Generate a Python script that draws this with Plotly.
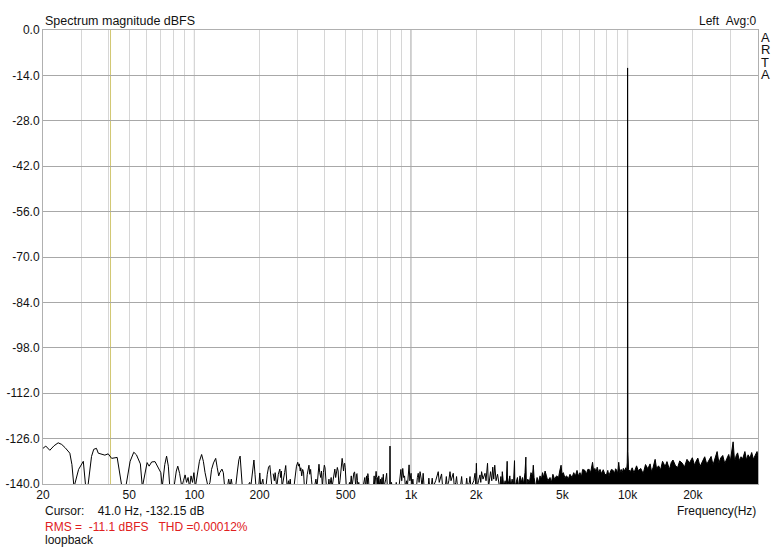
import plotly.graph_objects as go

# ---------------- data ----------------
low_freq = [20.0, 20.6, 21.5, 22.5, 23.5, 24.4, 25.3, 26.6, 27.2, 27.8, 29.2, 30.7, 31.5, 32.2,
            33.5, 34.3, 35.3, 36.0, 38.6, 40.0, 41.5, 43.0, 44.0, 46.3, 48.2, 50.5, 52.5, 54.0,
            56.3, 57.5, 59.0, 60.5, 61.8, 63.5, 65.8, 68.0, 70.0, 71.0, 73.0, 74.4, 75.8, 77.0,
            80.5, 82.5, 83.8, 85.5, 87.5, 89.0, 90.6, 92.0, 93.5, 95.0, 96.5, 98.0, 99.5, 101.0,
            103.0, 105.5, 108.0, 110.0, 112.0, 114.0, 115.7, 118.0, 120.0, 122.5, 125.4, 127.5,
            129.5, 131.0, 134.0, 136.0, 138.0, 142.0, 144.0, 146.0, 148.0, 150.0, 155.0, 158.0,
            160.5, 162.6, 164.5, 166.5, 175.0, 180.0, 182.0, 185.5, 188.3, 190.5, 192.5, 198.0,
            200.4, 202.5, 205.0, 207.0, 209.0, 214.0, 217.0, 220.0, 223.0, 225.5, 228.0]
low_db = [-129.0, -128.3, -129.6, -128.2, -127.3, -127.8, -128.8, -130.5, -134.0, -141, -135.5,
          -133.0, -141, -141, -131.5, -129.3, -129.0, -130.5, -131.1, -130.7, -132.1, -131.8,
          -131.8, -141, -141, -133.0, -130.2, -131.0, -133.8, -141, -137.0, -133.4, -134.5,
          -133.2, -133.1, -134.8, -136.5, -141, -134.0, -131.4, -134.5, -141, -141, -136.0,
          -134.5, -136.8, -141, -139.0, -137.2, -139.5, -138.0, -141, -137.5, -139.5, -136.5,
          -141, -137.0, -133.0, -130.9, -133.0, -136.5, -139.0, -141, -139.5, -135.5, -133.5,
          -132.1, -135.0, -137.5, -136.5, -135.4, -136.5, -141, -141, -138.5, -141, -138.5,
          -141, -141, -136.0, -132.5, -131.4, -135.5, -141, -141, -139.5, -141, -136.0,
          -132.6, -137.0, -141, -141, -136.6, -141, -139.5, -138.5, -141, -141, -137.0,
          -134.8, -134.3, -137.5, -141]

mid_freq = [231, 234, 236, 238, 240, 244, 246, 248, 250, 252, 254, 258, 261, 264, 266, 268, 272,
            274, 277, 279, 288, 292, 296, 300, 303, 305, 308, 310, 313, 316, 319, 322, 328, 332,
            335, 338, 341, 344, 347, 350, 358, 364, 368, 372, 376, 379, 383, 386, 390, 394, 398,
            401, 404, 407, 414, 418, 421, 428, 432, 440, 445, 449, 453, 457, 461, 465, 470, 474,
            478, 481, 484, 488, 491, 494, 497, 500, 503, 515, 520, 524, 530, 534, 540, 545, 549,
            553, 556, 560, 563, 566, 569, 574, 578, 585, 588, 600, 612, 616, 624, 628, 632, 636,
            640, 670, 676, 680, 686, 690, 694, 698, 702, 706, 710, 714, 718, 724, 728, 735, 740,
            745, 750, 765, 772, 778, 797, 800, 803, 813, 818, 852, 855, 858, 880, 890, 898, 906,
            916, 925, 934, 942, 955, 962, 972, 980, 988, 1001, 1010, 1020, 1028, 1060, 1070, 1080,
            1090, 1101, 1115, 1125, 1138, 1150, 1200, 1209, 1220, 1240, 1253, 1265, 1300, 1320,
            1336, 1350, 1365, 1384, 1400, 1440, 1456, 1470, 1495, 1514, 1530, 1550, 1567, 1585,
            1610, 1623, 1640, 1690, 1713, 1730, 1790, 1808, 1825, 1860, 1873, 1890, 1950, 1975,
            1990, 2004, 2020, 2050, 2082, 2100, 2118, 2150, 2196, 2220, 2256, 2280, 2310, 2330,
            2360, 2385, 2410, 2436, 2470, 2510, 2550, 2576]
mid_db = [-136.8, -139, -136.5, -141, -141, -137, -135.5, -135.4, -138, -136, -141, -139, -136.5,
          -134.3, -138, -141, -139, -141, -138.5, -141, -141, -137, -134.5, -133.3, -134.5,
          -133.8, -136, -135, -137.5, -135.5, -136.2, -141, -141, -137, -135, -134.2, -137,
          -135.5, -138.5, -141, -141, -138.5, -141, -136, -133.9, -136.5, -138, -136, -141,
          -136.5, -134.2, -135, -137, -141, -141, -138.5, -141, -138, -141, -137.5, -135.4,
          -138, -136.5, -134.9, -136, -141, -139, -136.5, -134, -132.1, -133.5, -136, -134,
          -133.6, -135, -137.5, -141, -141, -139.5, -141, -137.5, -141, -137, -136.5, -136.3,
          -138, -141, -137, -136.8, -139, -141, -139.5, -141, -140, -141, -141, -138, -141,
          -137.5, -141, -136.8, -138, -141, -141, -137.5, -141, -137, -136.1, -138, -141,
          -138, -141, -137.5, -139, -141, -138.5, -141, -138, -141, -137, -141, -138.5,
          -136.7, -141, -141, -128.3, -141, -139.5, -141, -141, -139.5, -141, -141, -137,
          -135.5, -139, -135.2, -138, -137.5, -141, -139, -141, -137, -134.1, -139, -136.7,
          -141, -138.5, -141, -141, -138, -136.7, -139.5, -136.2, -138.5, -141, -136.7, -141,
          -141, -138.2, -141, -141, -138.2, -141, -139, -137, -136.2, -139.5, -138, -136.9,
          -141, -141, -137.7, -141, -139, -136.2, -139, -138, -136.7, -141, -139.5, -137.7,
          -141, -141, -137.7, -141, -141, -138.2, -141, -139.5, -137.7, -141, -139, -136.7,
          -140, -133.6, -141, -139, -137.2, -139.5, -136.2, -138.5, -136.7, -139, -133.6,
          -141, -138.5, -136.2, -139, -134.8, -138.5, -134.2, -139, -137, -140, -141]

high_freq = [2576, 2600, 2620, 2640, 2660, 2680, 2720, 2750, 2780, 2792, 2830, 2860, 2890, 2930,
             2970, 3005, 3018, 3060, 3100, 3140, 3186, 3230, 3270, 3310, 3360, 3391, 3410, 3460,
             3520, 3580, 3640, 3670, 3700, 3760, 3820, 3880, 3942, 4000, 4050, 4100, 4160, 4220,
             4280, 4383, 4450, 4520, 4600, 4700, 4800, 4860, 4930, 4980, 5050, 5130, 5236, 5320,
             5420, 5540, 5640, 5740, 5840, 5930, 6030, 6120, 6200, 6350, 6450, 6550, 6650, 6750,
             6890, 6970, 7060, 7150, 7240, 7350, 7460, 7580, 7720, 7850, 7990, 8100, 8200, 8295,
             8420, 8580, 8700, 8800, 8880, 9000, 9100, 9200, 9340, 9450, 9560, 9700, 9800, 9900,
             9960, 9985, 9992, 10000, 10008, 10015, 10030, 10100, 10300, 10500, 10700, 11000,
             11200, 11500, 11800, 12100, 12400, 12700, 12900, 13100, 13400, 13600, 13900, 14200,
             14500, 14900, 15200, 15600, 15900, 16200, 16600, 17000, 17400, 17900, 18300, 18800,
             19300, 19900, 20400, 20700, 21100, 21600, 22100, 22700, 23200, 23700, 24300, 24800,
             25300, 25900, 26400, 26900, 27500, 28100, 28700, 29300, 29800, 30700, 31200, 31700,
             32200, 32800, 33400, 34000, 34800, 35400, 36000, 36700, 37400, 38100, 38800, 39600,
             40000]
high_db = [-141, -137.7, -141, -136.2, -138.5, -141, -139, -141, -133.0, -141, -139, -137.5, -141,
           -138.5, -141, -132.8, -141, -139, -138, -141, -137.5, -139.5, -138, -140, -136.5,
           -131.7, -141, -138.5, -139.5, -136.5, -137.5, -134.2, -138, -141, -138, -139.5,
           -137.5, -138.5, -136.5, -138, -136.0, -137.5, -139, -138, -139.5, -137, -138.5,
           -137.5, -138, -136, -134.2, -137, -136.5, -138, -137.5, -138.5, -137, -138, -136.5,
           -137.5, -135.8, -137.5, -136.5, -137.8, -135.5, -135.8, -137, -135.5, -135.5, -136.5,
           -133.3, -136, -135.2, -136.3, -134.8, -136.5, -135.5, -136.8, -135.6, -137, -137.2,
           -135.8, -137.5, -136.5, -135.5, -135.8, -136.8, -135.3, -135.6, -136.8, -133.3,
           -136.5, -135.5, -136.5, -135.2, -136, -135, -135.8, -133.5, -129.5, -64.5, -11.7,
           -64.8, -125.0, -130, -135.5, -136.2, -135.0, -136.6, -134.4, -135.9, -135.2, -136.8,
           -134.0, -135.3, -133.8, -136.2, -135.0, -132.4, -135.2, -134.4, -135.6, -133.0,
           -134.6, -133.1, -135.5, -133.4, -132.6, -134.2, -135.0, -132.9, -133.6, -134.8,
           -132.4, -133.5, -131.9, -134.3, -133.0, -132.0, -134.6, -133.2, -131.6, -133.9,
           -132.6, -131.5, -134.1, -132.3, -130.0, -133.5, -132.0, -131.2, -133.7, -132.2,
           -130.9, -133.0, -127.0, -133.2, -131.3, -130.4, -132.8, -131.6, -132.2, -130.0,
           -132.6, -131.0, -132.0, -130.3, -132.4, -131.2, -130.0, -131.5]

x_tick_vals = [20, 50, 100, 200, 500, 1000, 2000, 5000, 10000, 20000]
x_tick_text = ["20", "50", "100", "200", "500", "1k", "2k", "5k", "10k", "20k"]
x_minor_vals = [30, 40, 60, 70, 80, 90, 300, 400, 600, 700, 800, 900,
                3000, 4000, 6000, 7000, 8000, 9000, 30000]
x_decades = [100, 1000, 10000]
y_tick_vals = [0, -14, -28, -42, -56, -70, -84, -98, -112, -126, -140]
y_tick_text = ["0.0", "-14.0", "-28.0", "-42.0", "-56.0", "-70.0", "-84.0", "-98.0",
               "-112.0", "-126.0", "-140.0"]
cursor_freq = 41.0
floor_db = -150

FONT = "Liberation Sans, Arial, sans-serif"

fig = go.Figure()
fig.add_trace(go.Scatter(x=low_freq, y=low_db, mode="lines",
                         line=dict(color="black", width=1), hoverinfo="skip"))
fig.add_trace(go.Scatter(x=mid_freq, y=mid_db, mode="lines",
                         line=dict(color="black", width=1), hoverinfo="skip"))
fig.add_trace(go.Scatter(x=high_freq + [high_freq[-1], high_freq[0]],
                         y=high_db + [floor_db, floor_db],
                         mode="lines", fill="toself", fillcolor="black",
                         line=dict(color="black", width=1), hoverinfo="skip"))

shapes = []
for f in x_decades:
    shapes.append(dict(type="line", xref="x", yref="paper", x0=f, x1=f, y0=0, y1=1,
                       line=dict(color="#9a9a9a", width=1), layer="between"))
shapes.append(dict(type="line", xref="x", yref="paper", x0=cursor_freq, x1=cursor_freq,
                   y0=0, y1=1, line=dict(color="#d2c872", width=1), layer="between"))

annotations = [
    dict(text="Spectrum magnitude dBFS", xref="paper", yref="paper", x=0.0, y=1.0,
         xanchor="left", yanchor="bottom", showarrow=False,
         font=dict(family=FONT, size=12.5, color="#111")),
    dict(text="Left\u00a0\u00a0Avg:0", xref="paper", yref="paper", x=1.0, y=1.0,
         xanchor="right", yanchor="bottom", showarrow=False,
         font=dict(family=FONT, size=12, color="#111")),
    dict(text="Frequency(Hz)", xref="paper", yref="paper", x=1.0, y=-0.06,
         xanchor="right", yanchor="middle", showarrow=False,
         font=dict(family=FONT, size=12, color="#111")),
    dict(text="Cursor:\u00a0\u00a0\u00a0\u00a041.0 Hz, -132.15 dB", xref="paper", yref="paper",
         x=0.0, y=-0.06, xanchor="left", yanchor="middle", showarrow=False,
         font=dict(family=FONT, size=12, color="#111")),
    dict(text="RMS =\u00a0\u00a0-11.1 dBFS\u00a0\u00a0\u00a0THD =0.00012%", xref="paper", yref="paper",
         x=0.0, y=-0.0955, xanchor="left", yanchor="middle", showarrow=False,
         font=dict(family=FONT, size=12, color="#e02020")),
    dict(text="loopback", xref="paper", yref="paper",
         x=0.0, y=-0.1235, xanchor="left", yanchor="middle", showarrow=False,
         font=dict(family=FONT, size=12, color="#111")),
]
for letter, yp in zip(["A", "R", "T", "A"], [0.984, 0.956, 0.929, 0.901]):
    annotations.append(dict(text=letter, xref="paper", yref="paper", x=1.0, y=yp,
                            xanchor="left", yanchor="middle", xshift=1, showarrow=False,
                            font=dict(family=FONT, size=13, color="#111")))

fig.update_layout(
    width=772, height=547,
    margin=dict(l=43, r=14, t=30, b=63, pad=0, autoexpand=False),
    paper_bgcolor="white", plot_bgcolor="white",
    showlegend=False,
    font=dict(family=FONT, size=12, color="#111"),
    shapes=shapes, annotations=annotations,
    xaxis=dict(type="log", range=[1.30103, 4.60206], automargin=False,
               tickmode="array", tickvals=x_tick_vals, ticktext=x_tick_text,
               showgrid=True, gridcolor="#d6d6d6", gridwidth=1,
               minor=dict(tickmode="array", tickvals=x_minor_vals, showgrid=True,
                          gridcolor="#d6d6d6", gridwidth=1, ticks=""),
               ticks="", zeroline=False, showline=True, linecolor="#b0b0b0",
               linewidth=1, mirror=True, tickfont=dict(family=FONT, size=12, color="#111")),
    yaxis=dict(range=[-140, 0], tickmode="array", tickvals=y_tick_vals, ticktext=y_tick_text,
               automargin=False,
               showgrid=True, gridcolor="#a8a8a8", gridwidth=1, ticks="",
               zeroline=False, showline=True, linecolor="#b0b0b0", linewidth=1, mirror=True,
               tickfont=dict(family=FONT, size=12, color="#111")),
)

fig.write_html("out.html", config={"displayModeBar": False},
               post_script="document.body.style.margin='0';document.body.style.overflow='hidden';")
